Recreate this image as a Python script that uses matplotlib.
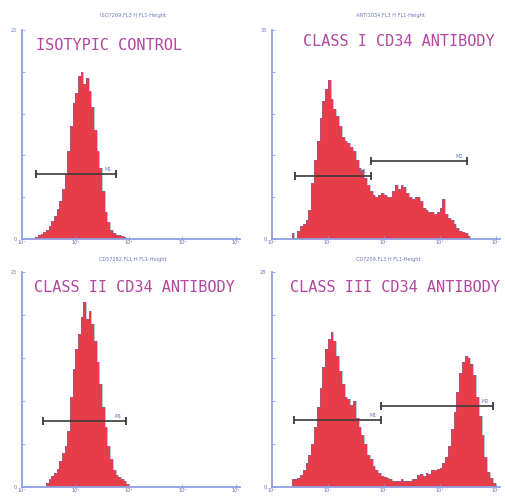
import numpy as np
import matplotlib.pyplot as plt

# histogram channels are in decades of fluorescence (0 = 10^0 ... 4 = 10^4)
bin_w = 0.05

iso_start = 0.25
iso_counts = [1, 2, 2.5, 3.5, 4.3, 6, 8.5, 11, 14.5, 18, 24, 31, 42, 54, 65, 70,
              78, 80, 74, 77, 71, 63, 52, 42, 34, 23, 13, 8, 4.3, 3, 2, 1.8, 1.3, 0.8]

c1_start = 0.35
c1_counts = [3, 0.5, 4, 6, 7, 9, 14, 27, 38, 47, 58, 66, 72, 76, 67, 62, 59, 54,
             49, 47, 46, 44, 42, 38, 34, 33, 29, 26, 23, 21, 20, 21, 22, 21, 20,
             20, 23, 26, 24, 26, 25, 22, 20, 19, 20, 20, 18, 15, 14, 13, 13, 12,
             13, 15, 19, 12, 10, 9, 7, 5.5, 4, 3.3, 2.8, 1.5]

c2_start = 0.45
c2_counts = [2, 3.5, 5, 6.5, 8.5, 12, 16, 19, 26, 42, 55, 64, 71, 79, 86, 78, 82,
             76, 68, 58, 48, 37, 28, 19, 13, 8, 5.5, 4.5, 3.7, 2.8, 1.5]

c3_start = 0.35
c3_counts = [3.5, 3.5, 4, 5.5, 8, 11, 15, 20, 28, 37, 46, 56, 64, 69, 72, 68, 61,
             54, 48, 42, 41, 38, 40, 32, 28, 24, 20, 15, 13, 10, 8, 6.5, 5, 4.5,
             4, 3.5, 3, 3, 3, 3.5, 3, 3, 3, 3.5, 3.5, 5.5, 6, 5, 6.5, 6, 8, 8,
             8.5, 9, 11, 14, 19, 27, 35, 44, 53, 58, 61, 60, 57, 52, 42, 33, 24,
             14, 7, 4, 2]

# marker gates: (from decade, to decade, height, label)
iso_gates = [(0.26, 1.76, 31, "M1")]
c1_gates = [(0.42, 1.77, 30, "M1"), (1.77, 3.49, 37.5, "M2")]
c2_gates = [(0.40, 1.94, 30.6, "M1")]
c3_gates = [(0.39, 1.95, 31, "M1"), (1.95, 3.96, 37.5, "M2")]

titles = ["ISOTYPIC CONTROL", "CLASS I CD34 ANTIBODY",
          "CLASS II CD34 ANTIBODY", "CLASS III CD34 ANTIBODY"]
headers = ["ISO7269.FL3 H FL1-Height", "ANTI1034.FL3 H FL1-Height",
           "CD57282.FL1 H FL1-Height", "CD7209.FL3 H FL1-Height"]
ymax_labels = ["25", "35", "25", "28"]
xtick_labels = ["10\u2070", "10\u00b9", "10\u00b2", "10\u00b3", "10\u2074"]

W, H = 506, 497
RED = "#e63d48"
EDGE = "#5b78c0"
AXC = "#8f9ee0"
TITLE_C = "#b4479f"
GATE_C = "#3a3a3a"

fig = plt.figure(figsize=(W / 100, H / 100), dpi=100)


def panel(x0, x1, ytop, ybot, start, counts, gates, title, title_xy, header,
          header_xy, ymax_lab):
    ax = fig.add_axes([x0 / W, 1 - ybot / H, (x1 - x0) / W, (ybot - ytop) / H])
    edges = start + bin_w * np.arange(len(counts) + 1)
    ax.stairs(counts, edges, fill=True, color=RED, lw=0)
    ax.stairs(counts, edges, color=EDGE, lw=0.6, alpha=0.5)
    for g0, g1, gy, lab in gates:
        ax.plot([g0, g1], [gy, gy], color=GATE_C, lw=1.2)
        ax.plot([g0, g1], [gy, gy], ls="none", marker="|", ms=6, mew=1.3,
                color=GATE_C)
        ax.text(g1 - 0.08, gy + 1.0, lab, fontsize=3.5, color=EDGE,
                ha="right", va="bottom")
    ax.set_xlim(0, 4.08)
    ax.set_ylim(0, 100)
    for s in ["top", "right"]:
        ax.spines[s].set_visible(False)
    for s in ["left", "bottom"]:
        ax.spines[s].set_color(AXC)
        ax.spines[s].set_linewidth(1.3)
    ax.set_xticks([0, 1, 2, 3, 4])
    ax.set_xticklabels(xtick_labels)
    ax.set_yticks([0, 20, 40, 60, 80, 100])
    ax.set_yticklabels(["0", "", "", "", "", ymax_lab])
    ax.tick_params(axis="both", colors=AXC, labelcolor="#6a78b8", labelsize=3.6,
                   length=2, width=0.6, pad=1.0, direction="in")
    ax.tick_params(axis="y", pad=4)
    ax.patch.set_alpha(0)
    fig.text(title_xy[0] / W, 1 - title_xy[1] / H, title, fontsize=11,
             family="DejaVu Sans Mono", color=TITLE_C, ha="left", va="center")
    fig.text(header_xy[0] / W, 1 - header_xy[1] / H, header, fontsize=3.6,
             color="#6a78b8", ha="center", va="center")
    return ax


panel(22, 240, 30, 239, iso_start, iso_counts, iso_gates, titles[0],
      (36, 45), headers[0], (133, 16), ymax_labels[0])
panel(272, 500, 30, 239, c1_start, c1_counts, c1_gates, titles[1],
      (303, 42), headers[1], (390, 16), ymax_labels[1])
panel(22, 240, 272, 487, c2_start, c2_counts, c2_gates, titles[2],
      (34, 287), headers[2], (133, 260), ymax_labels[2])
panel(272, 500, 272, 487, c3_start, c3_counts, c3_gates, titles[3],
      (290, 287), headers[3], (388, 260), ymax_labels[3])

fig.savefig("out.png", dpi=100, facecolor="white")
